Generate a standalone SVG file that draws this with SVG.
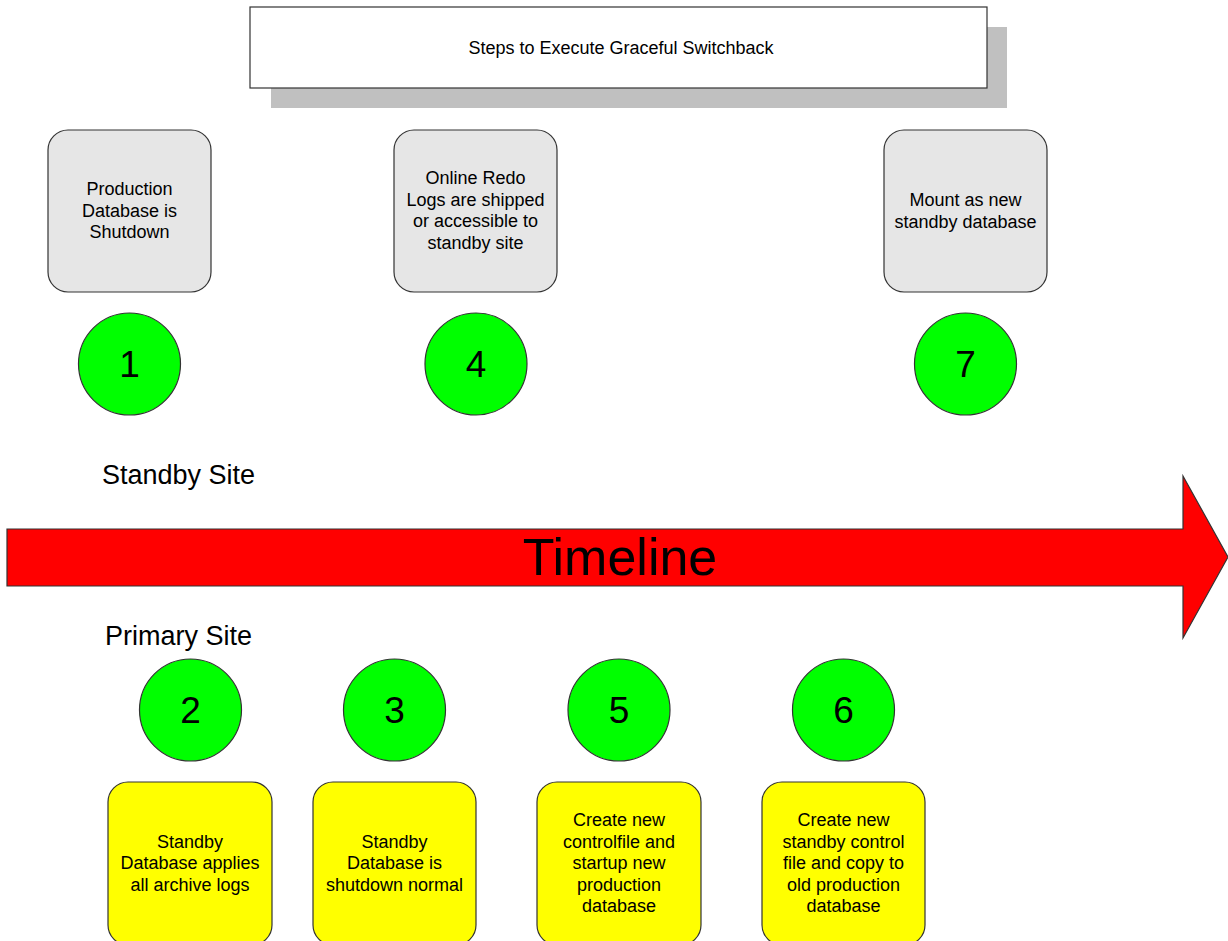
<svg xmlns="http://www.w3.org/2000/svg" width="1228" height="941" viewBox="0 0 1228 941">
  <style>
    text { font-family: "Liberation Sans", Arial, sans-serif; fill: #000; text-anchor: middle; }
    .box-grey { fill: #e6e6e6; stroke: #333; stroke-width: 1.2; }
    .box-yellow { fill: #ffff00; stroke: #333; stroke-width: 1.2; }
    .step { fill: #00ff00; stroke: #333; stroke-width: 1.2; }
    .num { font-size: 37px; }
    .lbl { font-size: 18px; }
    .site { font-size: 27px; }
  </style>
  <rect width="1228" height="941" fill="#fff"/>

  <!-- Title with drop shadow -->
  <g id="title">
    <rect x="271" y="27" width="736" height="81" fill="#c0c0c0"/>
    <rect x="250" y="7" width="737" height="81" fill="#fff" stroke="#333" stroke-width="1.2"/>
    <text x="621" y="54" font-size="18">Steps to Execute Graceful Switchback</text>
  </g>

  <!-- Standby site steps (above the timeline) -->
  <g id="step1-box">
    <rect class="box-grey" x="48" y="130" width="163" height="162" rx="20"/>
    <text class="lbl" x="129.5"><tspan x="129.5" y="195">Production</tspan><tspan x="129.5" y="216.5">Database is</tspan><tspan x="129.5" y="238">Shutdown</tspan></text>
  </g>
  <g id="step4-box">
    <rect class="box-grey" x="394" y="130" width="163" height="162" rx="20"/>
    <text class="lbl" x="475.5"><tspan x="475.5" y="184">Online Redo</tspan><tspan x="475.5" y="205.5">Logs are shipped</tspan><tspan x="475.5" y="227">or accessible to</tspan><tspan x="475.5" y="248.5">standby site</tspan></text>
  </g>
  <g id="step7-box">
    <rect class="box-grey" x="884" y="130" width="163" height="162" rx="20"/>
    <text class="lbl" x="965.5"><tspan x="965.5" y="206">Mount as new</tspan><tspan x="965.5" y="227.5">standby database</tspan></text>
  </g>

  <g id="step1">
    <circle class="step" cx="129.5" cy="364" r="51"/>
    <text class="num" x="129.5" y="377">1</text>
  </g>
  <g id="step4">
    <circle class="step" cx="476" cy="364" r="51"/>
    <text class="num" x="476" y="377">4</text>
  </g>
  <g id="step7">
    <circle class="step" cx="965.5" cy="364" r="51"/>
    <text class="num" x="965.5" y="377">7</text>
  </g>

  <g id="standby-label">
    <text class="site" x="178.5" y="484">Standby Site</text>
  </g>

  <!-- Timeline arrow -->
  <g id="timeline">
    <polygon points="7,529 1183,529 1183,476 1228,557 1183,638 1183,586 7,586" fill="#ff0000" stroke="#333" stroke-width="1.2"/>
    <text x="620" y="575" font-size="52">Timeline</text>
  </g>

  <g id="primary-label">
    <text class="site" x="178.5" y="645">Primary Site</text>
  </g>

  <!-- Primary site steps (below the timeline) -->
  <g id="step2">
    <circle class="step" cx="190.5" cy="710" r="51"/>
    <text class="num" x="190.5" y="723">2</text>
  </g>
  <g id="step3">
    <circle class="step" cx="394.5" cy="710" r="51"/>
    <text class="num" x="394.5" y="723">3</text>
  </g>
  <g id="step5">
    <circle class="step" cx="619" cy="710" r="51"/>
    <text class="num" x="619" y="723">5</text>
  </g>
  <g id="step6">
    <circle class="step" cx="843.5" cy="710" r="51"/>
    <text class="num" x="843.5" y="723">6</text>
  </g>

  <g id="step2-box">
    <rect class="box-yellow" x="108" y="782" width="164" height="163" rx="20"/>
    <text class="lbl" x="190"><tspan x="190" y="847.5">Standby</tspan><tspan x="190" y="869">Database applies</tspan><tspan x="190" y="890.5">all archive logs</tspan></text>
  </g>
  <g id="step3-box">
    <rect class="box-yellow" x="313" y="782" width="163" height="163" rx="20"/>
    <text class="lbl" x="394.5"><tspan x="394.5" y="847.5">Standby</tspan><tspan x="394.5" y="869">Database is</tspan><tspan x="394.5" y="890.5">shutdown normal</tspan></text>
  </g>
  <g id="step5-box">
    <rect class="box-yellow" x="537" y="782" width="164" height="163" rx="20"/>
    <text class="lbl" x="619"><tspan x="619" y="826">Create new</tspan><tspan x="619" y="847.5">controlfile and</tspan><tspan x="619" y="869">startup new</tspan><tspan x="619" y="890.5">production</tspan><tspan x="619" y="912">database</tspan></text>
  </g>
  <g id="step6-box">
    <rect class="box-yellow" x="762" y="782" width="163" height="163" rx="20"/>
    <text class="lbl" x="843.5"><tspan x="843.5" y="826">Create new</tspan><tspan x="843.5" y="847.5">standby control</tspan><tspan x="843.5" y="869">file and copy to</tspan><tspan x="843.5" y="890.5">old production</tspan><tspan x="843.5" y="912">database</tspan></text>
  </g>
</svg>
